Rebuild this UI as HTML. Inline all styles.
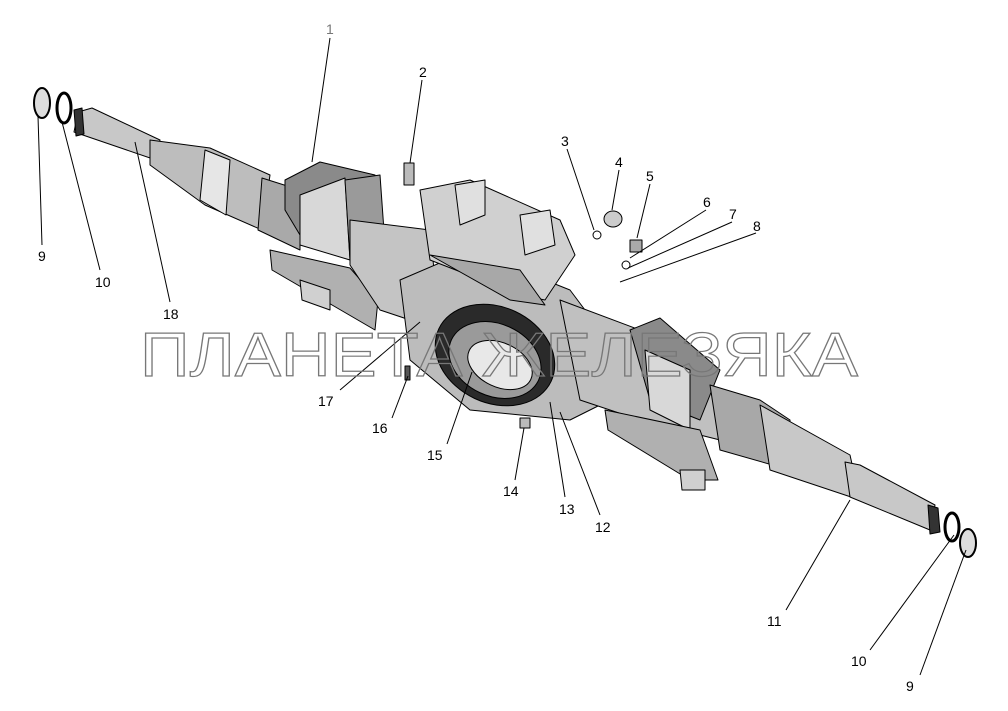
<!DOCTYPE html>
<html><head><meta charset="utf-8"><style>
html,body{margin:0;padding:0;background:#fff;}
svg{display:block}
text.l{font-family:"Liberation Sans",sans-serif;font-size:14px;fill:#000}
</style></head><body>
<svg width="1008" height="711" viewBox="0 0 1008 711" xmlns="http://www.w3.org/2000/svg">
<g stroke="#000" stroke-width="1" stroke-linejoin="round">
<!-- left shaft -->
<polygon points="78,112 92,108 160,140 156,160 74,132" fill="#c8c8c8"/>
<polygon points="74,110 82,108 84,134 76,136" fill="#333"/>
<polygon points="150,140 210,148 270,175 262,230 205,205 150,165" fill="#bdbdbd"/>
<polygon points="205,150 230,160 226,215 200,200" fill="#e6e6e6"/>
<polygon points="262,178 300,190 300,250 258,230" fill="#a9a9a9"/>
<!-- left spring pad -->
<polygon points="285,180 320,162 375,175 380,215 300,235 285,210" fill="#8a8a8a"/>
<polygon points="300,195 345,178 350,260 300,245" fill="#d8d8d8"/>
<polygon points="345,180 380,175 385,245 350,260" fill="#9a9a9a"/>
<polygon points="270,250 350,268 378,300 375,330 272,270" fill="#b0b0b0"/>
<polygon points="300,280 330,290 330,310 302,300" fill="#d0d0d0"/>
<!-- left tube to housing -->
<polygon points="350,220 430,230 440,330 380,310 350,265" fill="#c4c4c4"/>
<!-- central housing -->
<polygon points="400,280 470,250 570,290 600,330 610,400 570,420 470,410 410,360" fill="#bcbcbc"/>
<ellipse cx="495" cy="355" rx="62" ry="48" transform="rotate(25 495 355)" fill="#2a2a2a"/>
<ellipse cx="495" cy="360" rx="48" ry="36" transform="rotate(25 495 360)" fill="#9a9a9a"/>
<ellipse cx="500" cy="365" rx="34" ry="22" transform="rotate(25 500 365)" fill="#e8e8e8"/>
<!-- top bracket -->
<polygon points="420,190 470,180 560,220 575,255 545,300 520,295 430,260" fill="#d0d0d0"/>
<polygon points="455,185 485,180 485,215 460,225" fill="#e0e0e0"/>
<polygon points="520,215 550,210 555,245 525,255" fill="#e0e0e0"/>
<polygon points="430,255 520,270 545,305 510,300" fill="#a8a8a8"/>
<!-- right tube -->
<polygon points="560,300 640,330 710,380 720,440 640,420 580,400" fill="#c0c0c0"/>
<!-- right spring pad -->
<polygon points="630,330 660,318 720,370 700,420 650,400" fill="#8a8a8a"/>
<polygon points="645,350 690,370 690,430 650,410" fill="#d8d8d8"/>
<polygon points="605,410 700,430 718,480 690,480 608,430" fill="#b0b0b0"/>
<polygon points="680,470 705,470 705,490 682,490" fill="#d0d0d0"/>
<!-- right shaft -->
<polygon points="710,385 760,400 790,420 790,470 720,450" fill="#a8a8a8"/>
<polygon points="760,405 850,455 860,500 770,470" fill="#c8c8c8"/>
<polygon points="845,462 860,465 935,505 930,530 850,497" fill="#c8c8c8"/>
<polygon points="928,505 938,508 940,532 930,534" fill="#333"/>
<!-- small parts -->
<ellipse cx="42" cy="103" rx="8" ry="15" fill="#ddd" stroke-width="2"/>
<ellipse cx="64" cy="108" rx="7" ry="15" fill="none" stroke-width="3"/>
<ellipse cx="952" cy="527" rx="7" ry="14" fill="none" stroke-width="3"/>
<ellipse cx="968" cy="543" rx="8" ry="14" fill="#ddd" stroke-width="2"/>
<rect x="404" y="163" width="10" height="22" fill="#bbb"/>
<circle cx="597" cy="235" r="4" fill="none"/>
<ellipse cx="613" cy="219" rx="9" ry="8" fill="#ccc"/>
<rect x="630" y="240" width="12" height="12" fill="#aaa"/>
<circle cx="626" cy="265" r="4" fill="none"/>
<rect x="520" y="418" width="10" height="10" fill="#bbb"/>
<rect x="405" y="366" width="5" height="14" fill="#555"/>
</g>
<!-- leader lines -->
<g stroke="#000" stroke-width="1">
<line x1="330" y1="38" x2="312" y2="162"/>
<line x1="422" y1="80" x2="410" y2="163"/>
<line x1="567" y1="149" x2="594" y2="230"/>
<line x1="619" y1="170" x2="612" y2="210"/>
<line x1="650" y1="184" x2="637" y2="238"/>
<line x1="706" y1="210" x2="630" y2="258"/>
<line x1="732" y1="222" x2="628" y2="268"/>
<line x1="756" y1="233" x2="620" y2="282"/>
<line x1="42" y1="245" x2="38" y2="116"/>
<line x1="100" y1="270" x2="62" y2="122"/>
<line x1="170" y1="302" x2="135" y2="142"/>
<line x1="340" y1="390" x2="420" y2="322"/>
<line x1="392" y1="418" x2="408" y2="376"/>
<line x1="447" y1="444" x2="472" y2="372"/>
<line x1="515" y1="480" x2="524" y2="428"/>
<line x1="565" y1="497" x2="550" y2="402"/>
<line x1="600" y1="515" x2="560" y2="412"/>
<line x1="786" y1="610" x2="850" y2="500"/>
<line x1="870" y1="650" x2="954" y2="535"/>
<line x1="920" y1="675" x2="966" y2="550"/>
</g>
<!-- watermark -->
<text x="140" y="376" font-family="Liberation Sans,sans-serif" font-size="62" fill="none" stroke="#777" stroke-width="1.2" textLength="718" lengthAdjust="spacingAndGlyphs">ПЛАНЕТА ЖЕЛЕЗЯКА</text>
<!-- labels -->
<text class="l" x="326" y="34" style="fill:#777">1</text>
<text class="l" x="419" y="77">2</text>
<text class="l" x="561" y="146">3</text>
<text class="l" x="615" y="167">4</text>
<text class="l" x="646" y="181">5</text>
<text class="l" x="703" y="207">6</text>
<text class="l" x="729" y="219">7</text>
<text class="l" x="753" y="231">8</text>
<text class="l" x="38" y="261">9</text>
<text class="l" x="95" y="287">10</text>
<text class="l" x="163" y="319">18</text>
<text class="l" x="318" y="406">17</text>
<text class="l" x="372" y="433">16</text>
<text class="l" x="427" y="460">15</text>
<text class="l" x="503" y="496">14</text>
<text class="l" x="559" y="514">13</text>
<text class="l" x="595" y="532">12</text>
<text class="l" x="767" y="626">11</text>
<text class="l" x="851" y="666">10</text>
<text class="l" x="906" y="691">9</text>
</svg>
</body></html>
